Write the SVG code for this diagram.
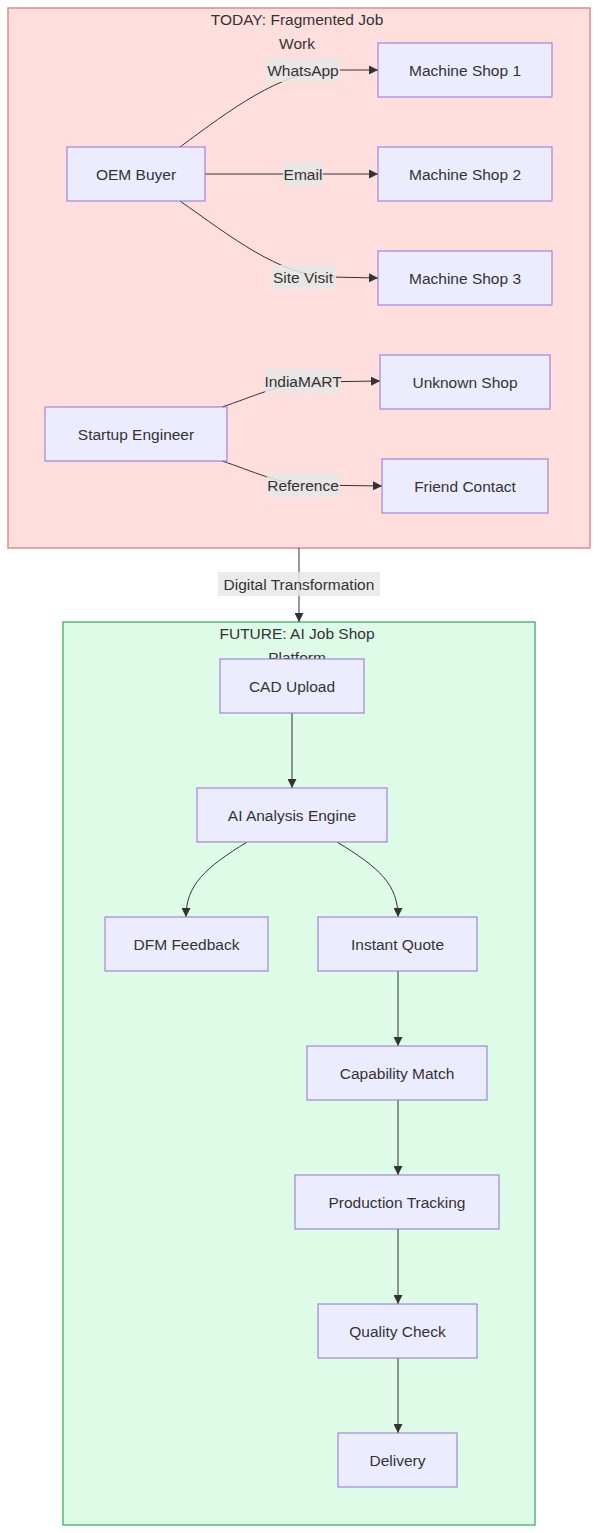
<svg xmlns="http://www.w3.org/2000/svg" width="598" height="1533" viewBox="0 0 598 1533">
<defs>
<style>
.node rect{fill:#ECECFF;stroke:#9370DB;stroke-width:1}
text{font-family:"Liberation Sans",Arial,sans-serif;font-size:15.5px;fill:#333}
.lbl{text-anchor:middle;dominant-baseline:central}
.edge{fill:none;stroke:#333;stroke-width:1}
.elbg{fill:#e8e8e8;fill-opacity:0.85}
</style>
<marker id="arr" viewBox="0 0 10 10" refX="10" refY="5" markerWidth="9" markerHeight="9" markerUnits="userSpaceOnUse" orient="auto">
<path d="M0,0 L10,5 L0,10 z" fill="#333"/>
</marker>
</defs>
<rect width="598" height="1533" fill="#ffffff"/>
<g id="cluster-today">
<rect x="8" y="8" width="582" height="540" fill="#FFDEDE" stroke="#E88A8A" stroke-width="1.5"/>
<text class="lbl" x="297" y="19">TODAY: Fragmented Job</text>
<text class="lbl" x="297" y="43">Work</text>
</g>
<g id="cluster-future">
<rect x="63" y="622" width="472" height="903" fill="#DDFBE7" stroke="#2EAA5E" stroke-width="1.2"/>
<text class="lbl" x="297" y="633">FUTURE: AI Job Shop</text>
<text class="lbl" x="297" y="657">Platform</text>
</g>
<g id="connectors">
<path class="edge" d="M180,147 C230,110 280,72 330,70 L378,70" marker-end="url(#arr)"/>
<path class="edge" d="M205,174 L378,174" marker-end="url(#arr)"/>
<path class="edge" d="M180,201 C230,236 280,276 330,277 L378,278" marker-end="url(#arr)"/>
<path class="edge" d="M222,407 C250,398 280,383 312,382 L380,381" marker-end="url(#arr)"/>
<path class="edge" d="M222,461 C250,470 280,485 312,485 L382,486" marker-end="url(#arr)"/>
<path class="edge" d="M299,548 L299,622" marker-end="url(#arr)"/>
<path class="edge" d="M292,713 L292,788" marker-end="url(#arr)"/>
<path class="edge" d="M247,842 C205,868 186,885 186,917" marker-end="url(#arr)"/>
<path class="edge" d="M337,842 C380,868 398,885 398,917" marker-end="url(#arr)"/>
<path class="edge" d="M398,971 L398,1046" marker-end="url(#arr)"/>
<path class="edge" d="M398,1100 L398,1175" marker-end="url(#arr)"/>
<path class="edge" d="M398,1229 L398,1304" marker-end="url(#arr)"/>
<path class="edge" d="M398,1358 L398,1433" marker-end="url(#arr)"/>
<g id="edge-labels">
<rect class="elbg" x="266" y="58" width="74" height="24"/>
<text class="lbl" x="303" y="70">WhatsApp</text>
<rect class="elbg" x="283" y="162" width="40" height="24"/>
<text class="lbl" x="303" y="174">Email</text>
<rect class="elbg" x="271" y="265" width="65" height="24"/>
<text class="lbl" x="303" y="277">Site Visit</text>
<rect class="elbg" x="265" y="369" width="76" height="24"/>
<text class="lbl" x="303" y="381">IndiaMART</text>
<rect class="elbg" x="267" y="473" width="73" height="24"/>
<text class="lbl" x="303" y="485">Reference</text>
<rect class="elbg" x="218" y="572" width="162" height="24"/>
<text class="lbl" x="299" y="584">Digital Transformation</text>
</g>
</g>
<g id="node-ms1" class="node"><rect x="378" y="43" width="174" height="54"/><text class="lbl" x="465" y="70">Machine Shop 1</text></g>
<g id="node-ms2" class="node"><rect x="378" y="147" width="174" height="54"/><text class="lbl" x="465" y="174">Machine Shop 2</text></g>
<g id="node-ms3" class="node"><rect x="378" y="251" width="174" height="54"/><text class="lbl" x="465" y="278">Machine Shop 3</text></g>
<g id="node-oem" class="node"><rect x="67" y="147" width="138" height="54"/><text class="lbl" x="136" y="174">OEM Buyer</text></g>
<g id="node-unknown" class="node"><rect x="380" y="355" width="170" height="54"/><text class="lbl" x="465" y="382">Unknown Shop</text></g>
<g id="node-startup" class="node"><rect x="45" y="407" width="182" height="54"/><text class="lbl" x="136" y="434">Startup Engineer</text></g>
<g id="node-friend" class="node"><rect x="382" y="459" width="166" height="54"/><text class="lbl" x="465" y="486">Friend Contact</text></g>
<g id="node-cad" class="node"><rect x="220" y="659" width="144" height="54"/><text class="lbl" x="292" y="686">CAD Upload</text></g>
<g id="node-ai" class="node"><rect x="197" y="788" width="190" height="54"/><text class="lbl" x="292" y="815">AI Analysis Engine</text></g>
<g id="node-dfm" class="node"><rect x="105" y="917" width="163" height="54"/><text class="lbl" x="186.5" y="944">DFM Feedback</text></g>
<g id="node-quote" class="node"><rect x="318" y="917" width="159" height="54"/><text class="lbl" x="397.5" y="944">Instant Quote</text></g>
<g id="node-cap" class="node"><rect x="307" y="1046" width="180" height="54"/><text class="lbl" x="397" y="1073">Capability Match</text></g>
<g id="node-prod" class="node"><rect x="295" y="1175" width="204" height="54"/><text class="lbl" x="397" y="1202">Production Tracking</text></g>
<g id="node-qc" class="node"><rect x="318" y="1304" width="159" height="54"/><text class="lbl" x="397.5" y="1331">Quality Check</text></g>
<g id="node-del" class="node"><rect x="338" y="1433" width="119" height="54"/><text class="lbl" x="397.5" y="1460">Delivery</text></g>
</svg>
